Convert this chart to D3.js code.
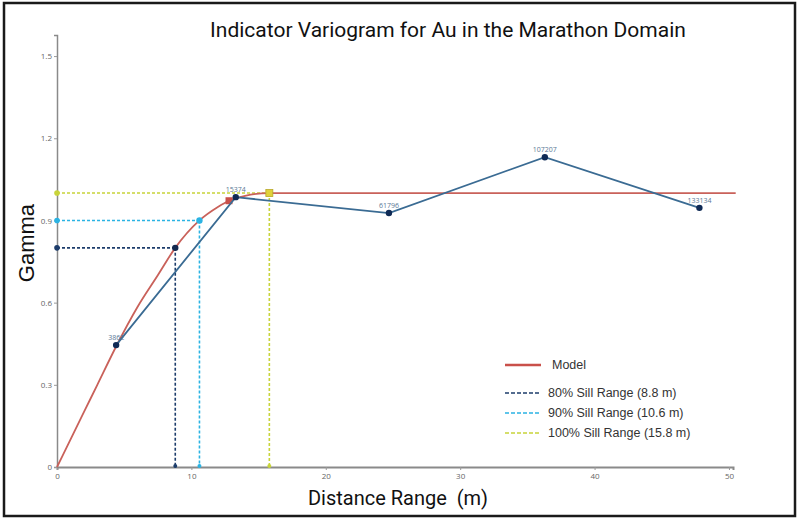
<!DOCTYPE html>
<html><head><meta charset="utf-8">
<script src="https://cdn.jsdelivr.net/npm/d3@7"></script>
<style>body{margin:0;background:#fff;} svg{display:block;}</style>
</head><body>
<svg id="c" width="800" height="523"></svg>
<script>
// ---- data ----
const expDist = [4.4, 13.3, 24.7, 36.3, 47.8];
const expGamma = [0.445, 0.985, 0.927, 1.131, 0.946];
const expPairs = ["3862", "15374", "61796", "107207", "133134"];
const modelDist = [0, 1, 2, 3, 4.4, 6, 7.5, 8.8, 10.6, 12, 12.8, 14, 15.8, 50.5];
const modelGamma = [0, 0.1, 0.2, 0.3, 0.44, 0.585, 0.7, 0.8, 0.9, 0.95, 0.972, 0.99, 1.0, 1.0];
const sillNames = ["80% Sill Range (8.8 m)", "90% Sill Range (10.6 m)", "100% Sill Range (15.8 m)"];
const sillRange = [8.8, 10.6, 15.8];
const sillGamma = [0.8, 0.9, 1.0];
const sillColors = ["#1d3d6b", "#2bb3e3", "#c8d43a"];
const xTicks = [0, 10, 20, 30, 40, 50];
const yTicks = [0, 0.3, 0.6, 0.9, 1.2, 1.5];

const svg = d3.select("#c");
const x = d3.scaleLinear().domain([0, 50.3]).range([57, 733]);
const y = d3.scaleLinear().domain([0, 1.577]).range([467, 35]);

// frame
svg.append("rect").attr("x", 4).attr("y", 3).attr("width", 791).attr("height", 513)
  .attr("fill", "none").attr("stroke", "#1a1a1a").attr("stroke-width", 2.5);

// axes
const xa = svg.append("g").attr("transform", "translate(0,467)")
  .call(d3.axisBottom(x).tickValues(xTicks).tickSize(3).tickPadding(3).tickFormat(d3.format("d")));
xa.select(".domain").attr("stroke", "#8a8a8a").attr("stroke-width", 2);
xa.selectAll(".tick line").attr("stroke", "#999");
xa.selectAll("text").attr("fill", "#666").attr("font-size", 8).attr("font-family", "Open Sans, sans-serif");

const ya = svg.append("g").attr("transform", "translate(57,0)")
  .call(d3.axisLeft(y).tickValues(yTicks).tickSize(3).tickPadding(2).tickFormat(d => d === 0 ? "0" : d3.format(".1f")(d)));
ya.select(".domain").attr("stroke", "#8a8a8a").attr("stroke-width", 1.5);
ya.selectAll(".tick line").attr("stroke", "#999");
ya.selectAll("text").attr("fill", "#666").attr("font-size", 8).attr("font-family", "Open Sans, sans-serif");

// sill range dashed lines
sillRange.forEach((r, i) => {
  const c = sillColors[i];
  svg.append("line").attr("x1", x(0)).attr("x2", x(r)).attr("y1", y(sillGamma[i])).attr("y2", y(sillGamma[i]))
    .attr("stroke", c).attr("stroke-width", 1.6).attr("stroke-dasharray", "3,2");
  svg.append("line").attr("x1", x(r)).attr("x2", x(r)).attr("y1", y(sillGamma[i])).attr("y2", y(0))
    .attr("stroke", c).attr("stroke-width", 1.6).attr("stroke-dasharray", "3,2");
  svg.append("circle").attr("cx", x(0)).attr("cy", y(sillGamma[i])).attr("r", 2.8).attr("fill", c);
  svg.append("circle").attr("cx", x(r)).attr("cy", y(0) - 1).attr("r", 2).attr("fill", c);
});

// model curve
const modelLine = d3.line().x((d, i) => x(modelDist[i])).y((d, i) => y(modelGamma[i])).curve(d3.curveMonotoneX);
svg.append("path").datum(modelDist).attr("d", modelLine).attr("fill", "none")
  .attr("stroke", "#c9615a").attr("stroke-width", 1.8);

// markers on curve
svg.append("circle").attr("cx", x(sillRange[0])).attr("cy", y(sillGamma[0])).attr("r", 3.2).attr("fill", "#13294f");
svg.append("circle").attr("cx", x(sillRange[1])).attr("cy", y(sillGamma[1])).attr("r", 3.2).attr("fill", "#2bb3e3");
svg.append("rect").attr("x", x(12.8) - 3.5).attr("y", y(0.972) - 3.5).attr("width", 7).attr("height", 7).attr("fill", "#c9504a");
svg.append("rect").attr("x", x(sillRange[2]) - 3.5).attr("y", y(sillGamma[2]) - 3.5).attr("width", 7).attr("height", 7)
  .attr("fill", "#e0d23a").attr("stroke", "#b8a828").attr("stroke-width", 0.8);

// experimental line
const expLine = d3.line().x((d, i) => x(expDist[i])).y((d, i) => y(expGamma[i]));
svg.append("path").datum(expDist).attr("d", expLine).attr("fill", "none")
  .attr("stroke", "#3a6b93").attr("stroke-width", 1.8);
svg.selectAll(".pt").data(expDist).enter().append("circle")
  .attr("cx", d => x(d)).attr("cy", (d, i) => y(expGamma[i])).attr("r", 3.2).attr("fill", "#0f2a55");
svg.selectAll(".lbl").data(expPairs).enter().append("text")
  .attr("x", (d, i) => x(expDist[i])).attr("y", (d, i) => y(expGamma[i]) - 5)
  .attr("text-anchor", "middle").attr("font-size", 7).attr("fill", "#5a7896")
  .attr("font-family", "Open Sans, sans-serif").text(d => d);

// titles
svg.append("text").attr("x", 448).attr("y", 37).attr("text-anchor", "middle")
  .attr("font-family", "Roboto, sans-serif").attr("font-size", 21).attr("fill", "#111")
  .text("Indicator Variogram for Au in the Marathon Domain");
svg.append("text").attr("x", 398).attr("y", 505).attr("text-anchor", "middle")
  .attr("font-family", "Roboto, sans-serif").attr("font-size", 20).attr("fill", "#111")
  .text("Distance Range\u00a0 (m)");
svg.append("text").attr("transform", "translate(34,243) rotate(-90)").attr("text-anchor", "middle")
  .attr("font-family", "Liberation Sans, Arial, sans-serif").attr("font-size", 22).attr("fill", "#111")
  .text("Gamma");

// legend
const lg = svg.append("g");
lg.append("line").attr("x1", 505).attr("x2", 541).attr("y1", 365).attr("y2", 365).attr("stroke", "#c9504a").attr("stroke-width", 2.4);
lg.append("text").attr("x", 552).attr("y", 369).attr("font-size", 12.5).attr("fill", "#333")
  .attr("font-family", "Liberation Sans, Arial, sans-serif").text("Model");
const ly = [393, 413, 433];
sillNames.forEach((n, i) => {
  lg.append("line").attr("x1", 505).attr("x2", 541).attr("y1", ly[i]).attr("y2", ly[i])
    .attr("stroke", sillColors[i]).attr("stroke-width", 1.6).attr("stroke-dasharray", "4,2");
  lg.append("text").attr("x", 548).attr("y", ly[i] + 4).attr("font-size", 12.5).attr("fill", "#333")
    .attr("font-family", "Liberation Sans, Arial, sans-serif").text(n);
});
</script>
</body></html>
